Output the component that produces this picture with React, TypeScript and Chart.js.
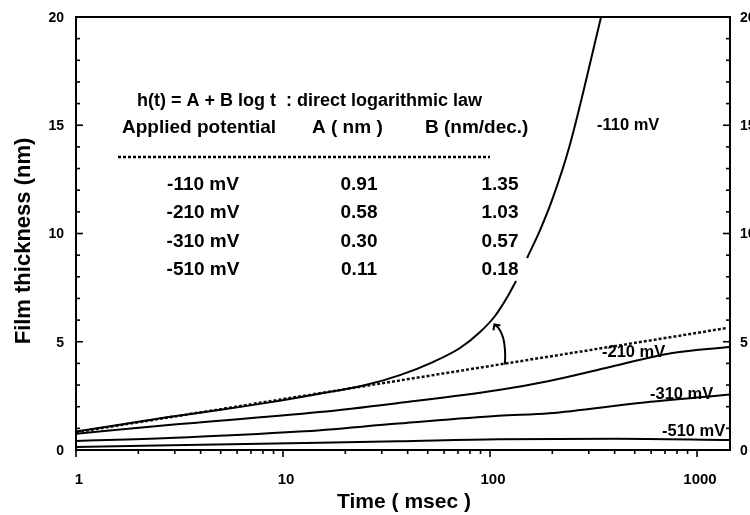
import React, { useEffect, useRef } from 'react';
import { Chart, registerables } from 'chart.js';

Chart.register(...registerables);

// ---- data (time in msec, thickness in nm) ----
const T_110 = [1, 2.8, 4.9, 8.6, 15, 25, 36.7, 53, 71.6, 89.5, 105.7, 122, 133.6, 140, 151, 174.5, 199.5, 243, 344];
const H_110 = [0.85, 1.52, 1.85, 2.2, 2.6, 3.0, 3.46, 4.06, 4.71, 5.45, 6.19, 7.11, 7.81, null, 8.87, 10.16, 11.55, 14.09, 20];

const T_LAW = [1, 10, 100, 1000, 1380];
const H_LAW = [0.82, 2.35, 3.88, 5.41, 5.63];

const T_210 = [1, 2.8, 15, 36, 110, 193, 363, 760, 1440];
const H_210 = [0.75, 1.15, 1.75, 2.17, 2.77, 3.19, 3.79, 4.48, 4.76];

const T_310 = [1, 2.8, 12, 36, 110, 193, 525, 1440];
const H_310 = [0.42, 0.55, 0.85, 1.22, 1.58, 1.7, 2.17, 2.56];

const T_510 = [1, 15, 36, 110, 400, 1440];
const H_510 = [0.14, 0.33, 0.4, 0.5, 0.52, 0.46];

const X_MIN = 1;
const X_MAX = 1443;
const Y_MIN = 0;
const Y_MAX = 20;
const X_MAJOR = [1, 10, 100, 1000];
const X_LABELS = ['1', '10', '100', '1000'];
const Y_MAJOR = [0, 5, 10, 15, 20];
const Y_LABELS = ['0', '5', '10', '15', '20'];

const X_TITLE = 'Time ( msec )';
const Y_TITLE = 'Film thickness (nm)';

const TABLE_TITLE = 'h(t) = A + B log t  : direct logarithmic law';
const TABLE_HEADERS = ['Applied potential', 'A ( nm )', 'B (nm/dec.)'];
const POTENTIALS = ['-110 mV', '-210 mV', '-310 mV', '-510 mV'];
const A_VALUES = ['0.91', '0.58', '0.30', '0.11'];
const B_VALUES = ['1.35', '1.03', '0.57', '0.18'];
const CURVE_LABELS = ['-110 mV', '-210 mV', '-310 mV', '-510 mV'];

// arrow from the -110 mV curve down to the extrapolated law (data units)
const ARROW_FROM = { t: 105, h: 5.8 };
const ARROW_TO = { t: 118, h: 3.95 };

const pts = (t: number[], h: (number | null)[]) => t.map((x, i) => ({ x, y: h[i] }));

const FONT = '"Liberation Sans", Arial, Helvetica, sans-serif';

const decor = {
  id: 'decor',
  afterDraw(chart: any) {
    const { ctx, chartArea: a } = chart;
    const xs = chart.scales.x;
    const ys = chart.scales.y;
    const line = (x1: number, y1: number, x2: number, y2: number) => {
      ctx.beginPath();
      ctx.moveTo(x1, y1);
      ctx.lineTo(x2, y2);
      ctx.stroke();
    };
    ctx.save();
    ctx.strokeStyle = '#000';
    ctx.fillStyle = '#000';
    ctx.lineWidth = 2;
    ctx.setLineDash([]);
    ctx.strokeRect(a.left, a.top, a.right - a.left, a.bottom - a.top);

    // y ticks (inward, both sides)
    ctx.lineWidth = 1.6;
    for (let v = Y_MIN; v <= Y_MAX; v++) {
      const py = ys.getPixelForValue(v);
      const len = v % 5 === 0 ? 7 : 4;
      line(a.left, py, a.left + len, py);
      line(a.right, py, a.right - len, py);
    }
    // x ticks (outward, log)
    for (let d = 1; d <= 1000; d *= 10) {
      for (let m = 1; m <= 9; m++) {
        const v = d * m;
        if (v > X_MAX) break;
        const px = xs.getPixelForValue(v);
        const len = m === 1 ? 7 : 4;
        line(px, a.bottom, px, a.bottom + len);
      }
    }

    // tick labels
    ctx.font = `bold 14px ${FONT}`;
    ctx.textBaseline = 'middle';
    Y_MAJOR.forEach((v, i) => {
      const py = ys.getPixelForValue(v) + 1;
      ctx.textAlign = 'right';
      ctx.fillText(Y_LABELS[i], a.left - 12, py);
      ctx.textAlign = 'left';
      ctx.fillText(Y_LABELS[i], a.right + 10, py);
    });
    ctx.font = `bold 15px ${FONT}`;
    ctx.textAlign = 'center';
    X_MAJOR.forEach((v, i) => {
      ctx.fillText(X_LABELS[i], xs.getPixelForValue(v) + 3, a.bottom + 30);
    });

    // axis titles
    ctx.font = `bold 21px ${FONT}`;
    ctx.fillText(X_TITLE, 404, a.bottom + 52);
    ctx.save();
    ctx.translate(24, 241);
    ctx.rotate(-Math.PI / 2);
    ctx.font = `bold 22px ${FONT}`;
    ctx.fillText(Y_TITLE, 0, 0);
    ctx.restore();

    // table
    ctx.textAlign = 'left';
    ctx.font = `bold 18px ${FONT}`;
    ctx.fillText(TABLE_TITLE, 137, 101);
    ctx.font = `bold 19px ${FONT}`;
    const headX = [122, 312, 425];
    TABLE_HEADERS.forEach((h, i) => ctx.fillText(h, headX[i], 128));
    ctx.lineWidth = 2.5;
    ctx.setLineDash([3, 2]);
    line(118, 157, 490, 157);
    ctx.setLineDash([]);
    const rowY = [185, 213, 242, 270];
    ctx.textAlign = 'center';
    POTENTIALS.forEach((p, i) => {
      ctx.fillText(p, 203, rowY[i]);
      ctx.fillText(A_VALUES[i], 359, rowY[i]);
      ctx.fillText(B_VALUES[i], 500, rowY[i]);
    });

    // curve labels
    ctx.textAlign = 'left';
    ctx.font = `bold 16.5px ${FONT}`;
    const labPos = [
      [597, 125],
      [602, 352],
      [650, 394],
      [662, 431],
    ];
    CURVE_LABELS.forEach((l, i) => ctx.fillText(l, labPos[i][0], labPos[i][1]));

    // curved arrow
    const x1 = xs.getPixelForValue(ARROW_FROM.t);
    const y1 = ys.getPixelForValue(ARROW_FROM.h);
    const x2 = xs.getPixelForValue(ARROW_TO.t);
    const y2 = ys.getPixelForValue(ARROW_TO.h);
    ctx.lineWidth = 2;
    ctx.beginPath();
    ctx.moveTo(x1, y1);
    ctx.quadraticCurveTo(x2 + 2, y1 + 8, x2, y2);
    ctx.stroke();
    ctx.beginPath();
    ctx.moveTo(x1 - 1, y1 + 6);
    ctx.lineTo(x1, y1);
    ctx.lineTo(x1 + 6, y1 + 1);
    ctx.stroke();

    ctx.restore();
  },
};

export default function App() {
  const ref = useRef<HTMLCanvasElement | null>(null);
  useEffect(() => {
    if (!ref.current) return;
    const solid = {
      borderColor: '#000',
      borderWidth: 2,
      pointRadius: 0,
      fill: false,
      cubicInterpolationMode: 'monotone' as const,
      spanGaps: false,
    };
    const chart = new Chart(ref.current, {
      type: 'line',
      data: {
        datasets: [
          { ...solid, label: '-110 mV', data: pts(T_110, H_110) },
          {
            ...solid,
            label: 'law',
            data: pts(T_LAW, H_LAW),
            borderDash: [3, 2],
            borderColor: '#111',
            borderWidth: 2.5,
          },
          { ...solid, label: '-210 mV', data: pts(T_210, H_210) },
          { ...solid, label: '-310 mV', data: pts(T_310, H_310) },
          { ...solid, label: '-510 mV', data: pts(T_510, H_510) },
        ],
      },
      options: {
        animation: false,
        responsive: false,
        devicePixelRatio: 1,
        layout: { padding: { left: 76, top: 17, right: 20, bottom: 65 } },
        plugins: { legend: { display: false }, tooltip: { enabled: false } },
        scales: {
          x: { type: 'logarithmic', min: X_MIN, max: X_MAX, display: false },
          y: { type: 'linear', min: Y_MIN, max: Y_MAX, display: false },
        },
      },
      plugins: [decor],
    });
    return () => chart.destroy();
  }, []);
  return (
    <div style={{ position: 'fixed', left: 0, top: 0, width: 750, height: 515, background: '#fff' }}>
      <canvas ref={ref} width={750} height={515} style={{ width: 750, height: 515 }} />
    </div>
  );
}
